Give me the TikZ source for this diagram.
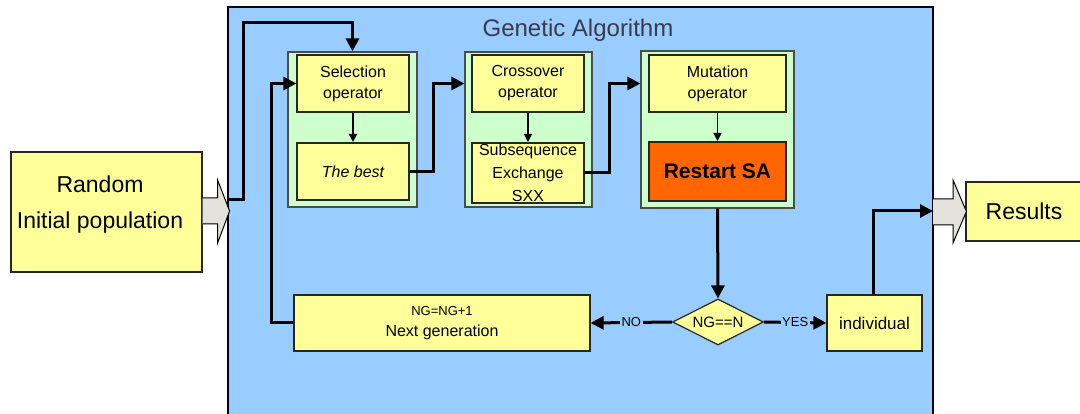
\documentclass[tikz,border=0pt]{standalone}
\usepackage{fontspec}
\setmainfont{Liberation Sans}
\usetikzlibrary{arrows.meta,shapes.geometric,calc}
\definecolor{panelblue}{HTML}{99CCFF}
\definecolor{groupgreen}{HTML}{CCFFCC}
\definecolor{boxyellow}{HTML}{FFFF99}
\definecolor{restartorange}{HTML}{FF6600}
\definecolor{hollowgray}{HTML}{E2E2DA}
\definecolor{titlegray}{HTML}{3A3A48}
\newcommand\setfs[2]{\fontsize{#1}{#2}\selectfont}
\begin{document}
\begin{tikzpicture}[x=1pt,y=-1pt,
  box/.style={draw=black!85, line width=1.2pt, fill=boxyellow, inner sep=0pt,
    align=center, font=\setfs{16}{21}},
  grp/.style={draw=black!70, line width=1.2pt, fill=groupgreen, inner sep=0pt},
  flow/.style={line width=3pt, -{Triangle[length=13pt,width=13pt]}},
  smallflow/.style={line width=1.5pt, -{Triangle[length=8pt,width=8pt]}},
  hollow/.style={draw=black, line width=1pt, fill=hollowgray, line join=miter},
  lbl/.style={fill=panelblue, inner sep=1.5pt, font=\setfs{13}{15}}
]
\useasboundingbox (0,0) rectangle (1080,414);
\fill[white] (0,0) rectangle (1080,414);

% main panel of the genetic algorithm
\node[draw=black!90!blue, line width=2pt, fill=panelblue, inner sep=0pt,
  minimum width=705pt, minimum height=409pt] (panel) at (580.5,211.5) {};
\node[anchor=base, text=titlegray, font=\setfs{24}{28}] (title) at (578,37) {Genetic Algorithm};

% input and output boxes
\node[box, minimum width=191pt, minimum height=120pt] (random) at (106.5,212) {};
\node[align=center, font=\setfs{23}{36}] (randomtext) at (100,205) {Random\\Initial population};
\node[box, minimum width=130pt, minimum height=59pt, font=\setfs{23}{28}] (results) at (1031,211.5) {\hspace*{-14pt}Results};

% operator groups
\node[grp, minimum width=129pt, minimum height=155pt] (selgrp) at (352.5,129.5) {};
\node[grp, minimum width=127pt, minimum height=155pt] (crossgrp) at (528.5,129.5) {};
\node[grp, minimum width=153pt, minimum height=157pt] (mutgrp) at (717.5,129.5) {};

\node[box, minimum width=112pt, minimum height=57pt] (selop) at (353,83.5) {Selection\\operator};
\node[box, line width=2pt, minimum width=112pt, minimum height=57pt, font=\setfs{16}{21}\itshape] (best) at (353,171.5) {The best};
\node[box, minimum width=112pt, minimum height=57pt] (crossop) at (528,83.5) {Crossover\\operator};
\node[box, line width=2pt, minimum width=112pt, minimum height=60pt, font=\setfs{16}{23}] (sxx) at (528,173) {Subsequence\\Exchange\\SXX};
\node[box, minimum width=137pt, minimum height=57pt] (mutop) at (717.5,83.5) {Mutation\\operator};
\node[box, line width=2pt, fill=restartorange, minimum width=137pt, minimum height=59pt,
  font=\setfs{21}{24}\bfseries] (restart) at (717.5,171.5) {Restart SA};

% generation loop
\node[diamond, draw=black!85, line width=1.2pt, fill=boxyellow, inner sep=0pt, aspect=2,
  minimum width=91pt, minimum height=46pt, font=\setfs{15}{18}] (test) at (718,322) {NG==N};
\node[box, minimum width=296pt, minimum height=56pt] (nextgen) at (442,323)
  {\setfs{13}{19}NG=NG+1\\\setfs{16}{19}Next generation};
\node[box, minimum width=95pt, minimum height=56pt, font=\setfs{17}{21}] (indiv) at (874.5,323) {individual};

% hollow block arrows
\filldraw[hollow] ($(random.east)+(0,-14)$) -- ++(15,0) -- ++(0,-18) -- ($(random.east)+(27,-1)$)
  -- ($(random.east)+(15,31)$) -- ++(0,-19) -- ($(random.east)+(0,12)$);
\filldraw[hollow] (933,199) -- (953,199) -- (953,180) -- ($(results.west)+(1,0)$)
  -- (953,243) -- (953,225) -- (933,225);

% connectors
\coordinate (inA) at (229,200);
\draw[flow] (inA) -- (243,200) -- (243,23) -| (selgrp.north);
\draw[smallflow, line width=2pt] (selop.south) -- (best.north);
\draw[flow] (best.east) -- ++(23,0) |- (crossgrp.west |- crossop.center);
\draw[smallflow] (crossop.south) -- (sxx.north);
\draw[flow] (sxx.east) -- ++(24,0) |- (mutgrp.west |- mutop.center);
\draw[smallflow] (mutop.south) -- (restart.north);
\draw[flow] (mutgrp.south) -- (test.north);
\draw[flow] (test.west) -- node[lbl] {NO} (nextgen.east);
\draw[flow] (test.east) -- node[lbl] {YES} (indiv.west);
\draw[flow] (nextgen.west) -| ($(selop.west)+(-25,0)$) -- (selop.west);
\coordinate (outA) at (933,211);
\draw[flow] ($(indiv.north)+(-1.5,0)$) |- (outA);
\end{tikzpicture}
\end{document}
